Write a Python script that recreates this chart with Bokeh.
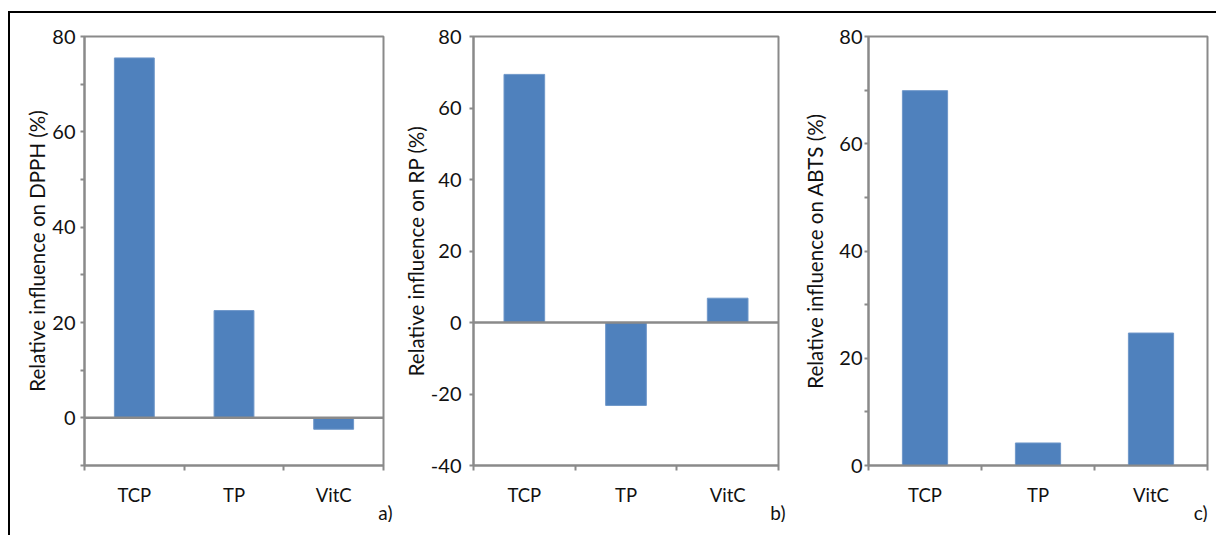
from bokeh.plotting import figure
from bokeh.models import FixedTicker, Range1d, Span, Title, PrintfTickFormatter
from bokeh.layouts import row
from bokeh.embed import file_html
from bokeh.resources import INLINE

categories = ["TCP", "TP", "VitC"]
dpph = [75.5, 22.5, -2.4]
rp = [69.4, -23.2, 6.8]
abts = [69.9, 4.2, 24.7]
ylabels = ["Relative influence on DPPH (%)",
           "Relative influence on RP (%)",
           "Relative influence on ABTS (%)"]
tags = ["a)", "b)", "c)"]

BAR = "#4F81BD"
GRAY = "#8a8a8a"
FONT = "Lato"
TXT = "#111111"
H = 509


def panel(values, ylabel, tag, ymin, ymax, major, minor, width, left, right,
          bottom, label_standoff, tick_standoff, zero_line, tag_offset):
    p = figure(width=width, height=H, output_backend="svg", toolbar_location=None,
               x_range=Range1d(0, len(categories)), y_range=Range1d(ymin, ymax),
               min_border_left=left, min_border_right=right,
               min_border_top=23, min_border_bottom=bottom)
    xs = [i + 0.5 for i in range(len(categories))]
    p.vbar(x=xs, top=values, bottom=0, width=0.4, fill_color=BAR,
           line_color="#6f97c9", line_width=1)
    if zero_line:
        p.add_layout(Span(location=0, dimension="width", line_color=GRAY, line_width=2.5))
    p.xgrid.visible = False
    p.ygrid.visible = False
    p.outline_line_color = GRAY
    p.outline_line_width = 2
    p.background_fill_color = "white"
    p.border_fill_color = "white"

    xa = p.xaxis[0]
    xa.ticker = FixedTicker(ticks=xs, minor_ticks=list(range(len(categories) + 1)))
    xa.major_label_overrides = {x: c for x, c in zip(xs, categories)}
    xa.major_tick_out = 0
    xa.major_tick_in = 0
    xa.minor_tick_out = 5
    xa.minor_tick_in = 0
    xa.minor_tick_line_color = GRAY
    xa.minor_tick_line_width = 2
    xa.axis_line_color = GRAY
    xa.axis_line_width = 2
    xa.major_label_text_font = FONT
    xa.major_label_text_font_size = "18.5px"
    xa.major_label_text_color = TXT
    xa.major_label_standoff = 13

    ya = p.yaxis[0]
    ya.ticker = FixedTicker(ticks=major, minor_ticks=minor)
    ya.formatter = PrintfTickFormatter(format="%d")
    ya.major_tick_out = 4
    ya.major_tick_in = 0
    ya.minor_tick_out = 4
    ya.minor_tick_in = 0
    ya.major_tick_line_color = GRAY
    ya.minor_tick_line_color = GRAY
    ya.major_tick_line_width = 2
    ya.minor_tick_line_width = 2
    ya.axis_line_color = GRAY
    ya.axis_line_width = 2
    ya.major_label_text_font = FONT
    ya.major_label_text_font_size = "20px"
    ya.major_label_text_color = TXT
    ya.major_label_standoff = tick_standoff
    ya.axis_label = ylabel
    ya.axis_label_text_font = FONT
    ya.axis_label_text_font_style = "normal"
    ya.axis_label_text_font_size = "20.5px"
    ya.axis_label_text_color = TXT
    ya.axis_label_standoff = label_standoff

    p.add_layout(Title(text=tag, align="right", offset=tag_offset, standoff=-20,
                       text_font=FONT, text_font_size="19px", text_font_style="normal",
                       text_color=TXT), "below")
    return p


pa = panel(dpph, ylabels[0], tags[0], -10, 80, [0, 20, 40, 60, 80],
           [-10, 10, 30, 50, 70], 390, 74, 17, 53, 0, 5, True, -9)
pb = panel(rp, ylabels[1], tags[1], -40, 80, [-40, -20, 0, 20, 40, 60, 80],
           [], 400, 66, 22, 52, 0, 8, True, -7)
pc = panel(abts, ylabels[2], tags[2], 0, 80, [0, 20, 40, 60, 80],
           [10, 30, 50, 70], 416, 67, 9, 57, 9, 2, False, 0)

layout = row(pa, pb, pc, styles={"border-left": "2px solid black",
                                 "border-top": "2px solid black",
                                 "margin-top": "11px",
                                 "margin-left": "8px",
                                 "padding-bottom": "13px"})

open("out.html", "w").write(file_html(layout, INLINE))
